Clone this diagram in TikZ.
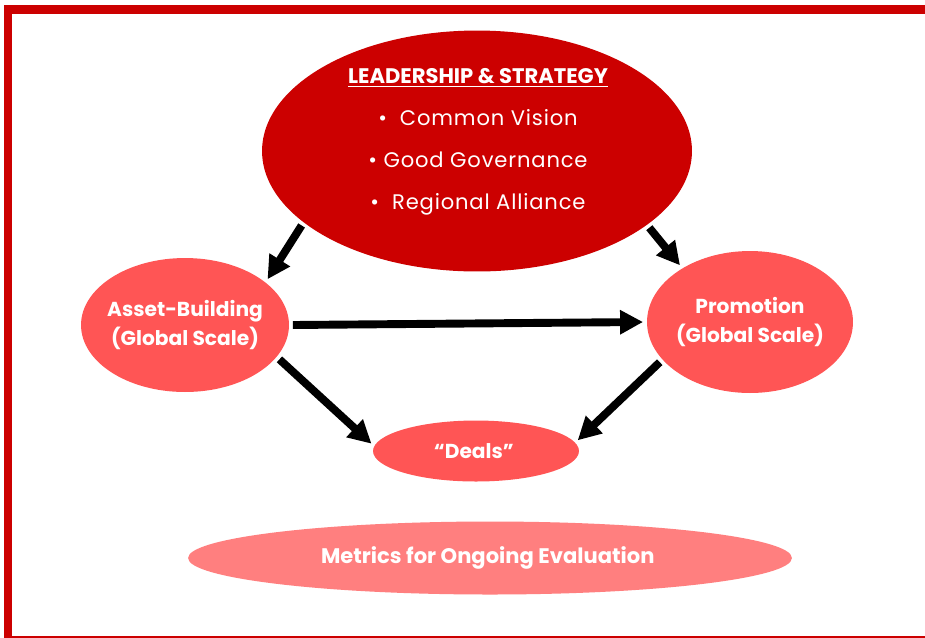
\documentclass[tikz,border=0pt]{standalone}
\usepackage{fontspec}
\usepackage{xcolor}
\usepackage{tikz}
\usetikzlibrary{shapes.geometric,arrows.meta}

\setmainfont{Poppins}
\newfontfamily\spaced[LetterSpace=4]{Poppins}

\definecolor{darkred}{HTML}{CC0000}
\definecolor{midred}{HTML}{FF5555}
\definecolor{palered}{HTML}{FF7F7F}

\begin{document}
\begin{tikzpicture}[x=0.02cm,y=-0.02cm,line width=4.5pt,
    -{Triangle[length=0.46cm,width=0.46cm]},
    base/.style={ellipse,inner xsep=-15pt,inner ysep=0pt,text=white,align=center,font=\bfseries\fontsize{11.5}{17}\selectfont},
    frame/.style={draw=darkred,line width=5pt}]

    \clip (0,0) rectangle (925,637);
    \fill[white] (0,0) rectangle (925,637);
    \draw[frame,-] (8,9.5) rectangle (940,640);

    \node[base, fill=darkred, minimum width=8.6cm, minimum height=4.82cm] (lead) at (477,151) {};
    \node[text=white, align=center, font=\fontsize{12}{24}\selectfont] (leadtext) at (478,142)
    { {\bfseries\underline{LEADERSHIP \& STRATEGY}}\\[0pt]
      {\spaced •\ \ Common Vision}\\
      {\spaced •\ Good Governance}\\
      {\spaced •\ \ Regional Alliance} };

    \node[base, fill=midred, minimum width=4.16cm, minimum height=2.68cm] (asset) at (185,325)
    { Asset-Building\\(Global Scale) };
    \node[base, fill=midred, minimum width=4.12cm, minimum height=2.84cm] (promo) at (750,322)
    { Promotion\\(Global Scale) };
    \node[base, fill=midred, minimum width=4.12cm, minimum height=1.22cm] (deals) at (476,451)
    { “Deals” };
    \node[base, fill=palered, minimum width=12.08cm, minimum height=1.46cm, font=\fontseries{sb}\fontsize{12}{17}\selectfont] (metrics) at (490,558)
    { Metrics for Ongoing Evaluation };

    \path[]
    {
        (lead.203) edge (asset.29)
        (lead.336) edge (promo.141)
        (asset.east) edge (promo.west)
        (asset.340) edge (deals.176)
        (promo.204) edge (deals.6)
    };
\end{tikzpicture}
\end{document}
